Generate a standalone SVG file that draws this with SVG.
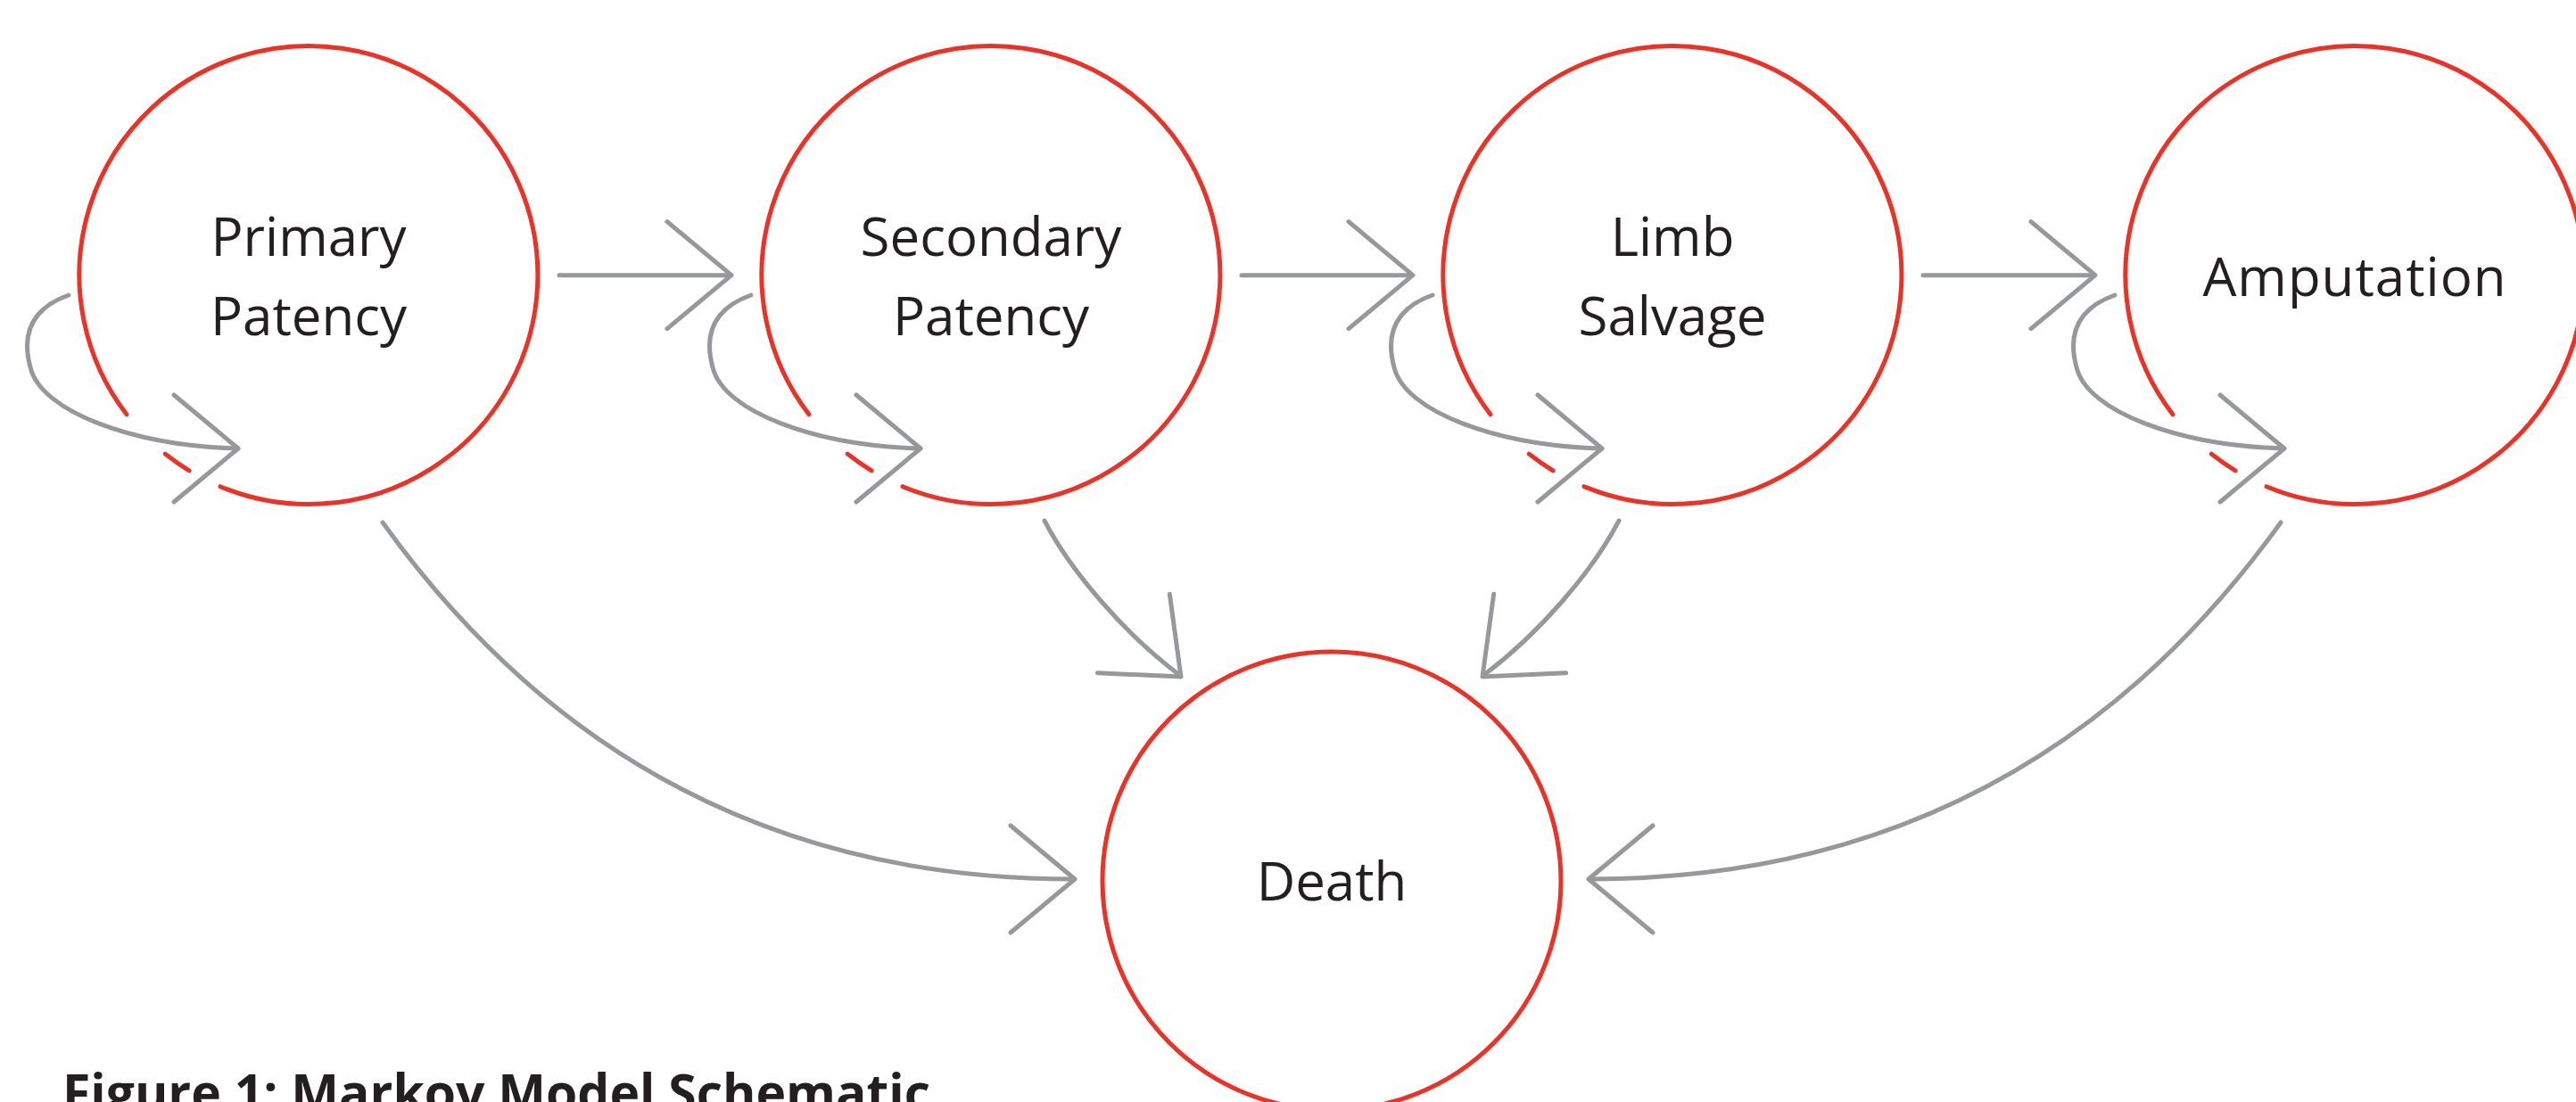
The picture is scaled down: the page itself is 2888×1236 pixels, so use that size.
<svg xmlns="http://www.w3.org/2000/svg" xmlns:xlink="http://www.w3.org/1999/xlink" width="2888" height="1236" viewBox="0 0 2888 1236">
<style>
.ring{fill:none;stroke:#ee3124;stroke-width:5;stroke-linecap:round}
.conn{fill:none;stroke:#97989b;stroke-width:5;stroke-linecap:round;stroke-linejoin:round}
.lbl{font-family:"Open Sans","Noto Sans","Liberation Sans",sans-serif;font-size:60px;fill:#231f20;text-anchor:middle}
.cap{font-family:"Open Sans","Noto Sans","Liberation Sans",sans-serif;font-size:57px;font-weight:bold;fill:#231f20}
</style>
<defs>
<g id="brokenRing">
<path class="ring" d="M-204.1,156.3 A257,257 0 1 1 -99,237.2"/>
<path class="ring" d="M-133.9,219.4 A257,257 0 0 1 -160.7,200.6"/>
</g>
<path id="chev" class="conn" d="M-72,-60 L0,0 L-72,60"/>
<g id="selfLoop">
<path class="conn" d="M-269,22.5 C-311,37.5 -322,66.5 -312,103.5 C-300,153.5 -196,191.5 -79,194.5"/>
<use xlink:href="#chev" transform="translate(-79,194.5)"/>
</g>
</defs>
<rect width="2888" height="1236" fill="#ffffff"/>
<g id="node-primary-patency" transform="translate(346,308.5)">
<use xlink:href="#brokenRing"/>
<text class="lbl" x="0" y="-21.5">Primary</text>
<text class="lbl" x="0" y="67.5">Patency</text>
</g>
<g id="node-secondary-patency" transform="translate(1111,308.5)">
<use xlink:href="#brokenRing"/>
<text class="lbl" x="0" y="-21.5">Secondary</text>
<text class="lbl" x="0" y="67.5">Patency</text>
</g>
<g id="node-limb-salvage" transform="translate(1875,308.5)">
<use xlink:href="#brokenRing"/>
<text class="lbl" x="0" y="-21.5">Limb</text>
<text class="lbl" x="0" y="67.5">Salvage</text>
</g>
<g id="node-amputation" transform="translate(2640,308.5)">
<use xlink:href="#brokenRing"/>
<text class="lbl" x="0" y="23.5" letter-spacing="1">Amputation</text>
</g>
<g id="node-death" transform="translate(1493,988)">
<circle class="ring" cx="0" cy="0" r="257"/>
<text class="lbl" x="0" y="21.5">Death</text>
</g>
<g id="connectors">
<use xlink:href="#selfLoop" transform="translate(346,308.5)"/>
<use xlink:href="#selfLoop" transform="translate(1111,308.5)"/>
<use xlink:href="#selfLoop" transform="translate(1875,308.5)"/>
<use xlink:href="#selfLoop" transform="translate(2640,308.5)"/>
<line class="conn" x1="627" y1="308.7" x2="818" y2="308.7"/>
<use xlink:href="#chev" transform="translate(820,308.7)"/>
<line class="conn" x1="1392" y1="308.7" x2="1582" y2="308.7"/>
<use xlink:href="#chev" transform="translate(1584,308.7)"/>
<line class="conn" x1="2156" y1="308.7" x2="2347" y2="308.7"/>
<use xlink:href="#chev" transform="translate(2349,308.7)"/>
<path class="conn" d="M429,586 Q716,986 1203,986"/>
<use xlink:href="#chev" transform="translate(1205,986)"/>
<path class="conn" d="M2557,586 Q2270,986 1783,986"/>
<use xlink:href="#chev" transform="translate(1781,986) rotate(180)"/>
<path class="conn" d="M1171,584 C1200,640 1260,710 1321,756"/>
<use xlink:href="#chev" transform="translate(1324,759) rotate(42.4)"/>
<path class="conn" d="M1815,584 C1786,640 1726,710 1665,756"/>
<use xlink:href="#chev" transform="translate(1662,759) rotate(137.6)"/>
</g>
<text class="cap" x="70" y="1246">Figure 1: Markov Model Schematic</text>
</svg>
